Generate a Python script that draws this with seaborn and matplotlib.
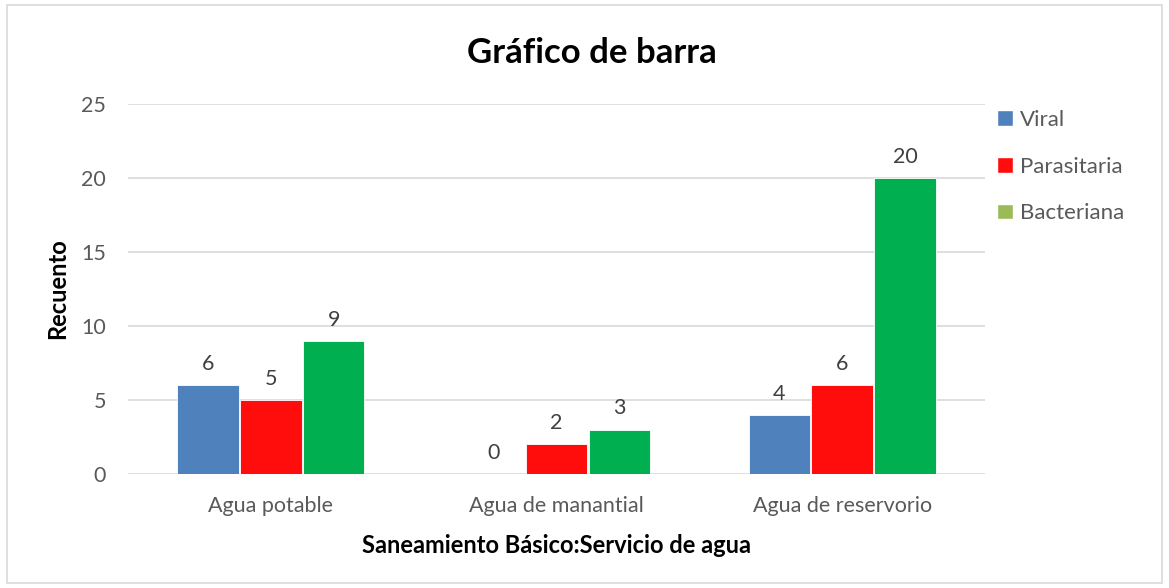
import pandas as pd
import matplotlib.pyplot as plt
import seaborn as sns
from matplotlib.patches import Patch, Rectangle

# Data
servicios = ['Agua potable', 'Agua de manantial', 'Agua de reservorio']
tipos = ['Viral', 'Parasitaria', 'Bacteriana']
viral = [6, 0, 4]
parasitaria = [5, 2, 6]
bacteriana = [9, 3, 20]

bar_colors = ['#4f81bd', '#ff0d0d', '#00b050']
legend_colors = ['#4f81bd', '#ff0d0d', '#9bbb59']

df = pd.DataFrame({
    'Servicio': servicios * 3,
    'Tipo': [t for t in tipos for _ in servicios],
    'Recuento': viral + parasitaria + bacteriana,
})

sns.set_style('white')
plt.rcParams['font.family'] = ['Lato', 'DejaVu Sans']
txt = '#595959'

fig = plt.figure(figsize=(11.69, 5.88), dpi=100)
ax = fig.add_axes([0.1095, 0.1939, 0.7331, 0.6292])

sns.barplot(data=df, x='Servicio', y='Recuento', hue='Tipo', order=servicios,
            hue_order=tipos, palette=bar_colors, width=0.66, gap=0.02,
            edgecolor='white', linewidth=0.6, saturation=1, ax=ax, legend=False)

for c in ax.containers:
    ax.bar_label(c, padding=8, fontsize=15.5, color='#404040')

ax.set_ylim(0, 25)
ax.set_xlim(-0.5, 2.5)
ax.set_yticks(range(0, 26, 5))
ax.yaxis.grid(True, color='#d9d9d9', linewidth=1.2)
ax.set_axisbelow(True)
for s in ax.spines.values():
    s.set_visible(False)
ax.tick_params(axis='both', length=0, labelsize=15.5, colors=txt)
ax.tick_params(axis='x', pad=16)
ax.tick_params(axis='y', pad=16)
ax.set_xlabel('Saneamiento Básico:Servicio de agua', fontsize=17,
              fontweight='bold', color='black', labelpad=13)
ax.set_ylabel('Recuento', fontsize=17, fontweight='bold', color='black', va='center')
ax.yaxis.set_label_coords(-0.082, 0.5)

fig.text(0.506, 0.91, 'Gráfico de barra', ha='center', va='center',
         fontsize=25, fontweight='bold', color='black')

handles = [Patch(facecolor=c, label=t) for c, t in zip(legend_colors, tipos)]
fig.legend(handles=handles, loc='upper left', bbox_to_anchor=(0.836, 0.847),
           frameon=False, fontsize=16, labelcolor=txt, handlelength=0.7,
           handleheight=0.7, handletextpad=0.3, labelspacing=1.2)

fig.add_artist(Rectangle((0.006, 0.008), 0.988, 0.983, transform=fig.transFigure,
                         fill=False, edgecolor='#d9d9d9', linewidth=1.2))

fig.savefig('out.png', dpi=100)
